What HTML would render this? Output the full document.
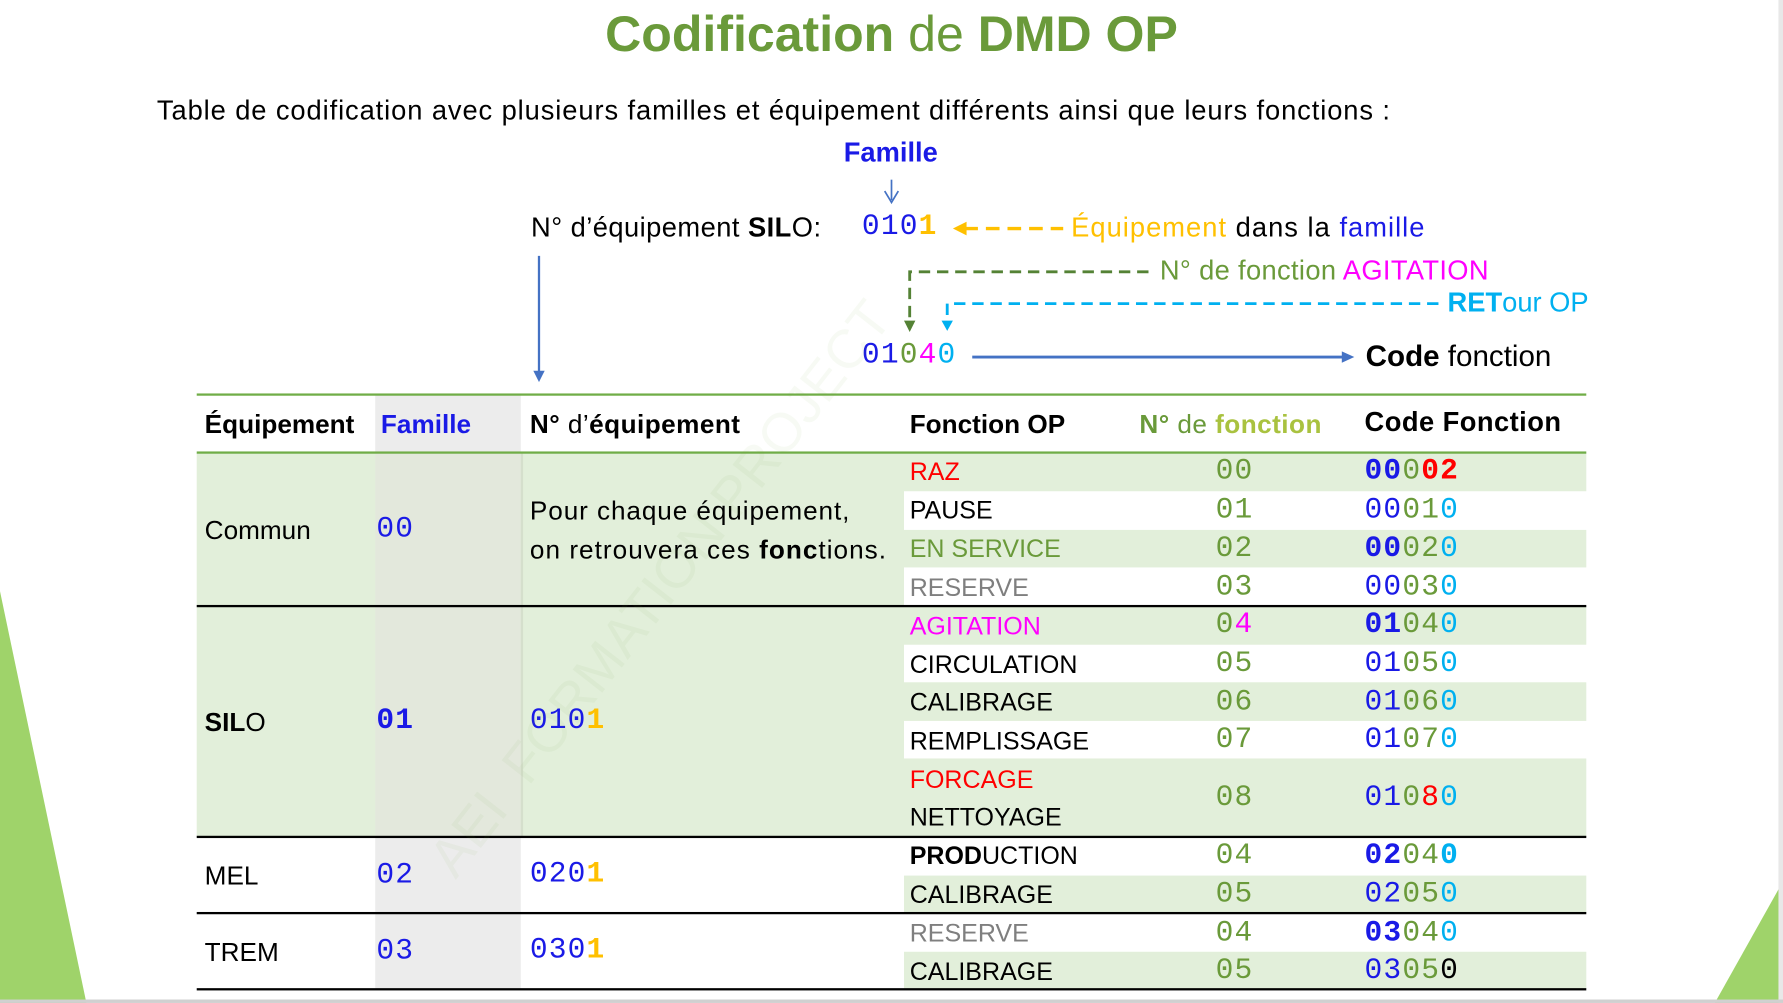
<!DOCTYPE html>
<html><head><meta charset="utf-8"><style>
html,body{margin:0;padding:0;background:#fff;overflow:hidden}
#w{position:absolute;left:0;top:0;width:1568px;height:882px;transform:scale(1.13712);transform-origin:0 0;font-family:"Liberation Sans",sans-serif;color:#000}
.a{position:absolute;white-space:nowrap;line-height:1}
.m{font-family:"Liberation Mono",monospace}
.b{color:#1a1ae6}.g{color:#6a9a3a}.c{color:#00b0f0}.p{color:#ff00ff}.r{color:#ff0000}.y{color:#ffc000}.gr{color:#7f7f7f}
.t{font-size:22px}
.cd{font-size:26px;letter-spacing:1px}
.bx{position:absolute}
</style></head><body><div id="w">
<svg class="bx" style="left:0;top:0" width="1568" height="882">
<polygon points="0,520 0,882 76,882" fill="#9fd36a"/>
<polygon points="1568,775 1568,882 1508,882" fill="#9fd36a"/>
<rect x="1564" y="0" width="4" height="882" fill="#e8e8e8"/>
<rect x="0" y="879" width="1568" height="3" fill="#d0d0d0"/>
</svg>
<div class="a" style="left:0;width:1568px;text-align:center;top:9px;font-size:44px;font-weight:bold;color:#6a9a3a">Codification <span style="font-weight:normal">de</span> DMD OP</div>
<div class="a t" style="left:138px;top:86px;font-size:24px;letter-spacing:0.8px">Table de codification avec plusieurs familles et équipement différents ainsi que leurs fonctions :</div>
<div class="a b" style="left:742px;top:123px;font-size:24px;font-weight:bold">Famille</div>
<div class="a t" style="left:467px;top:189px;font-size:24px;letter-spacing:0.4px">N° d’équipement <b>SIL</b>O:</div>
<div class="a m cd" style="left:758px;top:186px"><span class="b">010</span><span class="y" style="font-weight:bold">1</span></div>
<div class="a" style="left:942px;top:189px;font-size:24px;letter-spacing:0.9px"><span class="y">Équipement</span> dans la <span class="b">famille</span></div>
<div class="a g" style="left:1020px;top:227px;font-size:24px;letter-spacing:0.3px">N° de fonction <span class="p">AGITATION</span></div>
<div class="a c" style="left:1273px;top:255px;font-size:24px"><b>RET</b>our OP</div>
<div class="a m cd" style="left:758px;top:299px"><span class="b">01</span><span class="g">0</span><span class="p">4</span><span class="c">0</span></div>
<div class="a" style="left:1201px;top:300px;font-size:26px"><b>Code</b> fonction</div>
<svg class="bx" style="left:0;top:0" width="1568" height="882">
<line x1="784" y1="158" x2="784" y2="176" stroke="#4472c4" stroke-width="1.5"/>
<polyline points="778,168 784,178 790,168" fill="none" stroke="#4472c4" stroke-width="1.5"/>
<line x1="848" y1="201" x2="935" y2="201" stroke="#ffc000" stroke-width="3" stroke-dasharray="12,7"/>
<polygon points="838,201 850,195 850,207" fill="#ffc000"/>
<polyline points="1010,239 800,239 800,284" fill="none" stroke="#548235" stroke-width="2.5" stroke-dasharray="10,6"/>
<polygon points="795,282 805,282 800,292" fill="#548235"/>
<polyline points="1265,267 833,267 833,284" fill="none" stroke="#00b0f0" stroke-width="2.5" stroke-dasharray="10,6"/>
<polygon points="828,282 838,282 833,291" fill="#00b0f0"/>
<line x1="855" y1="314" x2="1182" y2="314" stroke="#4472c4" stroke-width="2.5"/>
<polygon points="1180,309 1191,314 1180,319" fill="#4472c4"/>
<line x1="474" y1="225" x2="474" y2="328" stroke="#4472c4" stroke-width="2"/>
<polygon points="469,326 479,326 474,336" fill="#4472c4"/>
<rect x="173" y="398" width="622" height="135" fill="#e2efda"/>
<rect x="173" y="533" width="622" height="203" fill="#e2efda"/>
<rect x="330" y="347" width="128" height="51" fill="#ececec"/>
<rect x="330" y="398" width="128" height="338" fill="#e3e8dc"/>
<rect x="330" y="736" width="128" height="134" fill="#ececec"/>
<rect x="458" y="398" width="2" height="338" fill="#d5dfcc"/>
<g fill="#e2efda">
<rect x="795" y="398" width="600" height="34"/>
<rect x="795" y="466" width="600" height="33"/>
<rect x="795" y="533" width="600" height="34"/>
<rect x="795" y="600" width="600" height="34"/>
<rect x="795" y="667" width="600" height="69"/>
<rect x="795" y="770" width="600" height="33"/>
<rect x="795" y="837" width="600" height="33"/>
</g>
<rect x="173" y="346" width="1222" height="2" fill="#70ad47"/>
<rect x="173" y="397" width="1222" height="2" fill="#70ad47"/>
<rect x="173" y="532" width="1222" height="2" fill="#000"/>
<rect x="173" y="735" width="1222" height="2" fill="#000"/>
<rect x="173" y="802" width="1222" height="2" fill="#000"/>
<rect x="173" y="869" width="1222" height="2" fill="#000"/>
</svg>
<div class="a" style="left:180px;top:362px;font-size:23px;font-weight:bold">Équipement</div>
<div class="a b" style="left:335px;top:362px;font-size:23px;font-weight:bold">Famille</div>
<div class="a" style="left:466px;top:362px;font-size:23px;letter-spacing:0.4px"><b>N°</b> d’<b>équipement</b></div>
<div class="a" style="left:800px;top:362px;font-size:23px;font-weight:bold">Fonction OP</div>
<div class="a g" style="left:1002px;top:362px;font-size:23px;letter-spacing:0.4px"><b>N°</b> de <b style="color:#a9c23f">fonction</b></div>
<div class="a" style="left:1200px;top:360px;font-size:24px;font-weight:bold;letter-spacing:0.4px">Code Fonction</div>
<div class="a t" style="left:180px;top:455px;font-size:23px">Commun</div>
<div class="a m cd b" style="left:331px;top:452px">00</div>
<div class="a t" style="left:466px;top:438px;font-size:23px;letter-spacing:0.8px">Pour chaque équipement,</div>
<div class="a t" style="left:466px;top:472px;font-size:23px;letter-spacing:0.9px">on retrouvera ces <b>fonc</b>tions.</div>
<div class="a t" style="left:180px;top:624px;font-size:23px"><b>SIL</b>O</div>
<div class="a m cd b" style="left:331px;top:620px;font-weight:bold">01</div>
<div class="a m cd" style="left:466px;top:620px"><span class="b">010</span><span class="y" style="font-weight:bold">1</span></div>
<div class="a t" style="left:180px;top:759px;font-size:23px">MEL</div>
<div class="a m cd b" style="left:331px;top:756px">02</div>
<div class="a m cd" style="left:466px;top:755px"><span class="b">020</span><span class="y" style="font-weight:bold">1</span></div>
<div class="a t" style="left:180px;top:826px;font-size:23px">TREM</div>
<div class="a m cd b" style="left:331px;top:823px">03</div>
<div class="a m cd" style="left:466px;top:822px"><span class="b">030</span><span class="y" style="font-weight:bold">1</span></div>
<div class="a t r" style="left:800px;top:404px">RAZ</div>
<div class="a t" style="left:800px;top:438px">PAUSE</div>
<div class="a t g" style="left:800px;top:472px">EN SERVICE</div>
<div class="a t gr" style="left:800px;top:506px">RESERVE</div>
<div class="a t p" style="left:800px;top:540px">AGITATION</div>
<div class="a t" style="left:800px;top:574px">CIRCULATION</div>
<div class="a t" style="left:800px;top:607px">CALIBRAGE</div>
<div class="a t" style="left:800px;top:641px">REMPLISSAGE</div>
<div class="a t r" style="left:800px;top:675px">FORCAGE</div>
<div class="a t" style="left:800px;top:708px">NETTOYAGE</div>
<div class="a t" style="left:800px;top:742px"><b>PROD</b>UCTION</div>
<div class="a t" style="left:800px;top:776px">CALIBRAGE</div>
<div class="a t gr" style="left:800px;top:810px">RESERVE</div>
<div class="a t" style="left:800px;top:844px">CALIBRAGE</div>
<div class="a m cd g" style="left:1069px;top:401px">00</div>
<div class="a m cd g" style="left:1069px;top:435px">01</div>
<div class="a m cd g" style="left:1069px;top:469px">02</div>
<div class="a m cd g" style="left:1069px;top:503px">03</div>
<div class="a m cd g" style="left:1069px;top:536px">0<span class="p">4</span></div>
<div class="a m cd g" style="left:1069px;top:570px">05</div>
<div class="a m cd g" style="left:1069px;top:604px">06</div>
<div class="a m cd g" style="left:1069px;top:637px">07</div>
<div class="a m cd g" style="left:1069px;top:688px">08</div>
<div class="a m cd g" style="left:1069px;top:739px">04</div>
<div class="a m cd g" style="left:1069px;top:773px">05</div>
<div class="a m cd g" style="left:1069px;top:807px">04</div>
<div class="a m cd g" style="left:1069px;top:840px">05</div>
<div class="a m cd" style="left:1200px;top:401px"><b class="b">00</b><span class="g">0</span><b class="r">0</b><b class="r">2</b></div>
<div class="a m cd" style="left:1200px;top:435px"><span class="b">00</span><span class="g">01</span><span class="c">0</span></div>
<div class="a m cd" style="left:1200px;top:469px"><b class="b">00</b><span class="g">02</span><span class="c">0</span></div>
<div class="a m cd" style="left:1200px;top:503px"><span class="b">00</span><span class="g">03</span><span class="c">0</span></div>
<div class="a m cd" style="left:1200px;top:536px"><b class="b">01</b><span class="g">04</span><span class="c">0</span></div>
<div class="a m cd" style="left:1200px;top:570px"><span class="b">01</span><span class="g">05</span><span class="c">0</span></div>
<div class="a m cd" style="left:1200px;top:604px"><span class="b">01</span><span class="g">06</span><span class="c">0</span></div>
<div class="a m cd" style="left:1200px;top:637px"><span class="b">01</span><span class="g">07</span><span class="c">0</span></div>
<div class="a m cd" style="left:1200px;top:688px"><span class="b">01</span><span class="g">0</span><span class="r">8</span><span class="c">0</span></div>
<div class="a m cd" style="left:1200px;top:739px"><b class="b">02</b><span class="g">04</span><b class="c">0</b></div>
<div class="a m cd" style="left:1200px;top:773px"><span class="b">02</span><span class="g">05</span><span class="c">0</span></div>
<div class="a m cd" style="left:1200px;top:807px"><b class="b">03</b><span class="g">04</span><span class="c">0</span></div>
<div class="a m cd" style="left:1200px;top:840px"><span class="b">03</span><span class="g">05</span><span>0</span></div>
<div class="a" style="left:370px;top:750px;font-size:48px;color:rgba(112,173,71,0.06);transform:rotate(-52deg);transform-origin:0 0">AEI&nbsp;&nbsp;FORMATION PROJECT</div>
</div></body></html>
